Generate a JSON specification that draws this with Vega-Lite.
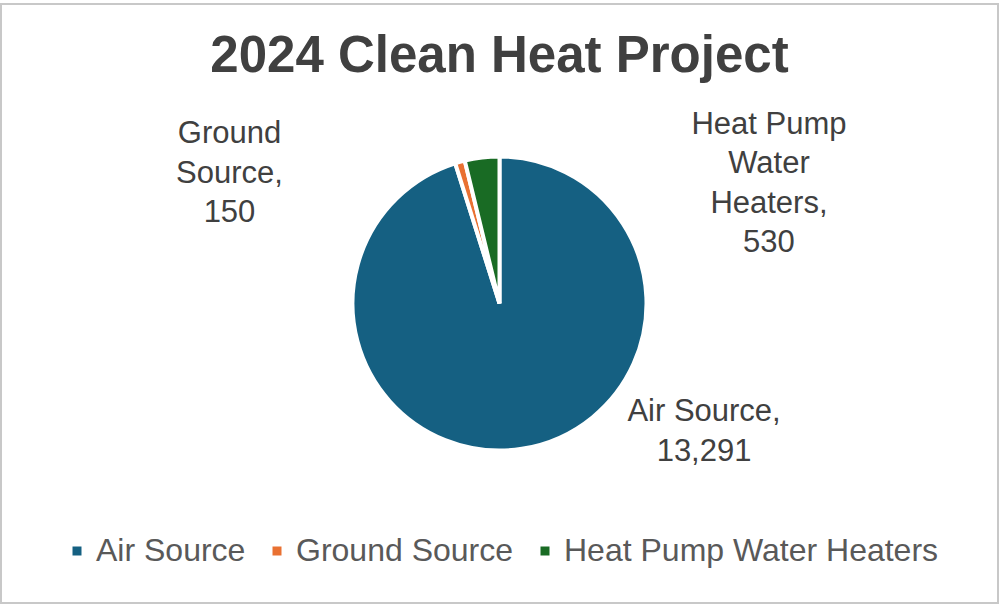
{
  "$schema": "https://vega.github.io/schema/vega-lite/v6.json",
  "autosize": "none",
  "width": 997,
  "height": 599,
  "padding": {"left": 1, "top": 4, "right": 2, "bottom": 4},
  "background": "white",
  "view": {"stroke": "#c8c8c8", "strokeWidth": 2, "fill": "white"},
  "config": {
    "legend": {"layout": {"bottom": {"anchor": "middle"}}}
  },
  "title": {
    "text": "2024 Clean Heat Project",
    "fontSize": 51,
    "fontWeight": "bold",
    "font": "Liberation Sans",
    "color": "#404040",
    "anchor": "middle",
    "offset": -79
  },
  "data": {
    "values": [
      {"type": "Air Source", "count": 13291, "order": 1, "label": "Air Source,\n13,291"},
      {"type": "Ground Source", "count": 150, "order": 2, "label": "Ground\nSource,\n150"},
      {"type": "Heat Pump Water Heaters", "count": 530, "order": 3, "label": "Heat Pump\nWater\nHeaters,\n530"}
    ]
  },
  "encoding": {
    "theta": {"field": "count", "type": "quantitative", "stack": true},
    "order": {"field": "order", "type": "quantitative"}
  },
  "layer": [
    {
      "mark": {"type": "arc", "outerRadius": 147, "stroke": "white", "strokeWidth": 4},
      "encoding": {
        "color": {
          "field": "type",
          "type": "nominal",
          "scale": {
            "domain": ["Air Source", "Ground Source", "Heat Pump Water Heaters"],
            "range": ["#156082", "#E97132", "#196B24"]
          },
          "legend": {
            "orient": "bottom",
            "direction": "horizontal",
            "title": null,
            "symbolType": "square",
            "symbolSize": 81,
            "symbolStrokeWidth": 0,
            "labelFontSize": 32,
            "labelFont": "Liberation Sans",
            "labelColor": "#595959",
            "labelLimit": 0,
            "columnPadding": 15,
            "labelOffset": 3,
            "offset": -68
          }
        }
      }
    },
    {
      "mark": {"type": "text", "radius": 150, "dx": 181.7, "dy": -39.7, "fontSize": 31, "font": "Liberation Sans", "color": "#404040", "lineBreak": "\n", "lineHeight": 39.5, "align": "center", "baseline": "middle"},
      "encoding": {"text": {"condition": {"test": "datum.type === 'Air Source'", "field": "label"}, "value": ""}}
    },
    {
      "mark": {"type": "text", "radius": 150, "dx": -229.7, "dy": -25, "fontSize": 31, "font": "Liberation Sans", "color": "#404040", "lineBreak": "\n", "lineHeight": 39.5, "align": "center", "baseline": "middle"},
      "encoding": {"text": {"condition": {"test": "datum.type === 'Ground Source'", "field": "label"}, "value": ""}}
    },
    {
      "mark": {"type": "text", "radius": 150, "dx": 287.3, "dy": -29.6, "fontSize": 31, "font": "Liberation Sans", "color": "#404040", "lineBreak": "\n", "lineHeight": 39.5, "align": "center", "baseline": "middle"},
      "encoding": {"text": {"condition": {"test": "datum.type === 'Heat Pump Water Heaters'", "field": "label"}, "value": ""}}
    }
  ]
}
